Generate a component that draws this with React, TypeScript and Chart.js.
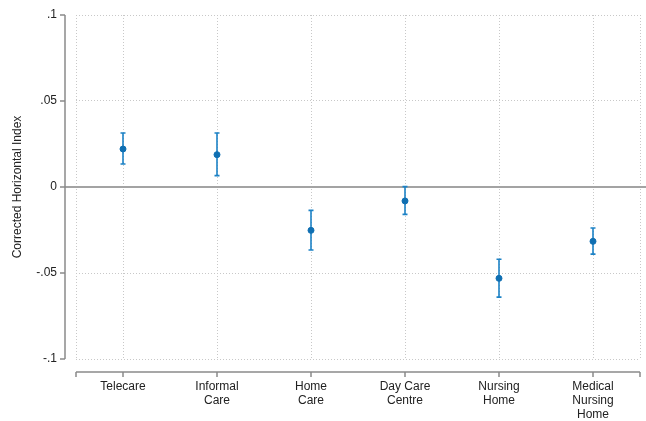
import React, { useEffect, useRef } from "react";
import { Chart, registerables } from "chart.js";

Chart.register(...registerables);

const categories: string[][] = [
  ["Telecare"],
  ["Informal", "Care"],
  ["Home", "Care"],
  ["Day Care", "Centre"],
  ["Nursing", "Home"],
  ["Medical", "Nursing", "Home"],
];
const estimates = [0.0221, 0.0188, -0.0252, -0.0081, -0.0531, -0.0316];
const upperCI = [0.0314, 0.0314, -0.0136, 0.0002, -0.042, -0.0238];
const lowerCI = [0.0134, 0.0066, -0.0366, -0.0159, -0.064, -0.039];
const yTicks = [-0.1, -0.05, 0, 0.05, 0.1];
const yTickLabels = ["-.1", "-.05", "0", ".05", ".1"];
const xTicks = [-0.5, 0, 1, 2, 3, 4, 5, 5.5];

const FONT = "'Liberation Sans', Arial, sans-serif";
const AXIS_COLOR = "#8a8a8a";
const BAR_COLOR = "#1c82c6";
const POINT_COLOR = "#0f6fb2";
const GRID_COLOR = "#c8c8c8";

const axesPlugin = {
  id: "stataAxes",
  beforeDatasetsDraw(chart: any) {
    const { ctx, chartArea, scales } = chart;
    const xs = scales.x;
    const ys = scales.y;
    ctx.save();
    // zero line
    const y0 = ys.getPixelForValue(0);
    ctx.strokeStyle = "#a3a3a3";
    ctx.lineWidth = 2;
    ctx.beginPath();
    ctx.moveTo(chartArea.left - 11, y0);
    ctx.lineTo(chart.width, y0);
    ctx.stroke();

    // y axis line
    ctx.strokeStyle = AXIS_COLOR;
    ctx.lineWidth = 1.5;
    const ax = chartArea.left - 11;
    ctx.beginPath();
    ctx.moveTo(ax, ys.getPixelForValue(yTicks[yTicks.length - 1]));
    ctx.lineTo(ax, ys.getPixelForValue(yTicks[0]));
    for (const v of yTicks) {
      const py = ys.getPixelForValue(v);
      ctx.moveTo(ax - 5, py);
      ctx.lineTo(ax, py);
    }
    ctx.stroke();

    // x axis line
    const ay = chartArea.bottom + 13;
    ctx.beginPath();
    ctx.moveTo(xs.getPixelForValue(xTicks[0]), ay);
    ctx.lineTo(xs.getPixelForValue(xTicks[xTicks.length - 1]), ay);
    for (const v of xTicks) {
      const px = xs.getPixelForValue(v);
      ctx.moveTo(px, ay);
      ctx.lineTo(px, ay + 5);
    }
    ctx.stroke();

    // error bars
    ctx.strokeStyle = BAR_COLOR;
    ctx.lineWidth = 1.6;
    estimates.forEach((_, i) => {
      const px = xs.getPixelForValue(i);
      const pu = ys.getPixelForValue(upperCI[i]);
      const pl = ys.getPixelForValue(lowerCI[i]);
      ctx.beginPath();
      ctx.moveTo(px, pu);
      ctx.lineTo(px, pl);
      ctx.moveTo(px - 2.5, pu);
      ctx.lineTo(px + 2.5, pu);
      ctx.moveTo(px - 2.5, pl);
      ctx.lineTo(px + 2.5, pl);
      ctx.stroke();
    });
    ctx.restore();
  },
};

export default function App() {
  const ref = useRef<HTMLCanvasElement | null>(null);
  useEffect(() => {
    if (!ref.current) return;
    const chart = new Chart(ref.current, {
      type: "scatter",
      data: {
        datasets: [
          {
            data: estimates.map((v, i) => ({ x: i, y: v })),
            backgroundColor: POINT_COLOR,
            borderColor: POINT_COLOR,
            pointRadius: 3,
            pointHoverRadius: 3,
          },
        ],
      },
      options: {
        animation: false,
        responsive: false,
        maintainAspectRatio: false,
        layout: { padding: { top: 15, right: 6, left: 0, bottom: 0 } },
        plugins: { legend: { display: false }, tooltip: { enabled: false } },
        scales: {
          x: {
            type: "linear",
            min: -0.5,
            max: 5.5,
            afterBuildTicks: (s: any) => {
              s.ticks = xTicks.map((v) => ({ value: v }));
            },
            afterFit: (s: any) => {
              s.height = 62;
              s.paddingLeft = 0;
              s.paddingRight = 0;
            },
            border: { display: false, dash: [1, 2] },
            grid: {
              color: GRID_COLOR,
              lineWidth: 1,
              drawTicks: false,
            },
            ticks: {
              autoSkip: false,
              maxRotation: 0,
              padding: 20,
              color: "#222",
              font: { family: FONT, size: 12, lineHeight: 1.2 },
              callback: (v: any) => {
                const idx = Number(v);
                return Number.isInteger(idx) && idx >= 0 && idx < categories.length
                  ? categories[idx]
                  : "";
              },
            },
          },
          y: {
            type: "linear",
            min: -0.1,
            max: 0.1,
            afterBuildTicks: (s: any) => {
              s.ticks = yTicks.map((v) => ({ value: v }));
            },
            afterFit: (s: any) => {
              s.width = 76;
              s.paddingTop = 0;
              s.paddingBottom = 0;
            },
            border: { display: false, dash: [1, 2] },
            grid: {
              color: (c: any) =>
                c.tick && Math.abs(c.tick.value) < 1e-9 ? "rgba(0,0,0,0)" : GRID_COLOR,
              lineWidth: 1,
              drawTicks: false,
            },
            ticks: {
              padding: 19,
              color: "#222",
              font: { family: FONT, size: 12 },
              callback: (v: any) => {
                const i = yTicks.findIndex((t) => Math.abs(t - Number(v)) < 1e-9);
                return i >= 0 ? yTickLabels[i] : "";
              },
            },
            title: {
              display: true,
              text: "Corrected Horizontal Index",
              color: "#222",
              font: { family: FONT, size: 12 },
              padding: { top: 10, bottom: 0 },
            },
          },
        },
      },
      plugins: [axesPlugin],
    });
    return () => chart.destroy();
  }, []);
  return (
    <div style={{ position: "fixed", left: 0, top: 0, width: 646, height: 421, background: "#fff" }}>
      <canvas ref={ref} width={646} height={421} style={{ width: 646, height: 421 }} />
    </div>
  );
}
